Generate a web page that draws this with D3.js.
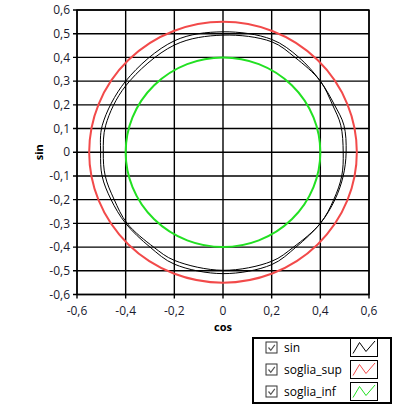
<!DOCTYPE html>
<html>
<head>
    <script src="https://d3js.org/d3.v7.min.js"></script>
    <style>
        body { margin: 0; padding: 0; background: white; }
        .tick-label { font-family: "Open Sans", sans-serif; font-size: 12px; fill: #1a1a2e; }
        .axis-title { font-family: "Open Sans", sans-serif; font-size: 11px; font-weight: bold; fill: black; }
        .legend-text { font-family: "Open Sans", sans-serif; font-size: 12px; fill: black; }
    </style>
</head>
<body>
<svg id="chart" width="393" height="405"></svg>
<script>
    // tick values
    const xTicks = [-0.6, -0.4, -0.2, 0, 0.2, 0.4, 0.6];
    const yTicks = [-0.6, -0.5, -0.4, -0.3, -0.2, -0.1, 0, 0.1, 0.2, 0.3, 0.4, 0.5, 0.6];

    // "sin" trace, two laps (cos, sin)
    const lap1Cos = [0.506, 0.497, 0.458, 0.4, 0.312, 0.2, 0.0, -0.2, -0.4, -0.496, -0.503, -0.497, -0.46, -0.4, -0.30, -0.2, 0.0, 0.2, 0.30, 0.4, 0.46, 0.494];
    const lap1Sin = [0.0, 0.114, 0.2, 0.3, 0.4, 0.476, 0.508, 0.47, 0.30, 0.114, 0.0, -0.1, -0.2, -0.3, -0.4, -0.472, -0.512, -0.474, -0.4, -0.3, -0.2, -0.1];
    const lap2Cos = [0.494, 0.484, 0.45, 0.4, 0.296, 0.2, 0.0, -0.2, -0.4, -0.482, -0.492, -0.484, -0.447, -0.394, -0.285, -0.2, 0.0, 0.2, 0.29, 0.4, 0.455, 0.488];
    const lap2Sin = [0.0, 0.114, 0.2, 0.3, 0.4, 0.466, 0.494, 0.452, 0.28, 0.114, 0.0, -0.1, -0.2, -0.3, -0.4, -0.456, -0.498, -0.46, -0.4, -0.3, -0.2, -0.1];

    // threshold circles (radius)
    const sogliaSup = 0.55;
    const sogliaInf = 0.4;

    // legend
    const legendNames = ['sin', 'soglia_sup', 'soglia_inf'];
    const legendColors = ['#000000', '#f24a4a', '#22e022'];

    const svg = d3.select('#chart');
    const pLeft = 77, pRight = 369, pTop = 10, pBottom = 294.5;

    const x = d3.scaleLinear().domain([-0.6, 0.6]).range([pLeft, pRight]);
    const y = d3.scaleLinear().domain([-0.6, 0.6]).range([pBottom, pTop]);

    const fmt = v => Math.abs(v) < 1e-9 ? '0' : v.toFixed(1).replace('.', ',');

    // plot background
    svg.append('rect')
        .attr('x', pLeft).attr('y', pTop)
        .attr('width', pRight - pLeft).attr('height', pBottom - pTop)
        .attr('fill', 'white');

    // grid
    const grid = svg.append('g');
    grid.selectAll('.vg')
        .data(xTicks)
        .join('line')
        .attr('x1', d => x(d)).attr('x2', d => x(d))
        .attr('y1', pTop).attr('y2', pBottom + 4)
        .attr('stroke', 'black').attr('stroke-width', 1.4);
    grid.selectAll('.hg')
        .data(yTicks)
        .join('line')
        .attr('x1', pLeft - 4).attr('x2', pRight)
        .attr('y1', d => y(d)).attr('y2', d => y(d))
        .attr('stroke', 'black').attr('stroke-width', 1.4);

    // tick labels
    svg.append('g').selectAll('text')
        .data(yTicks)
        .join('text')
        .attr('class', 'tick-label')
        .attr('x', pLeft - 7)
        .attr('y', d => y(d))
        .attr('dy', '0.35em')
        .attr('text-anchor', 'end')
        .text(fmt);
    svg.append('g').selectAll('text')
        .data(xTicks)
        .join('text')
        .attr('class', 'tick-label')
        .attr('x', d => x(d))
        .attr('y', pBottom + 20)
        .attr('text-anchor', 'middle')
        .text(fmt);

    // axis titles
    svg.append('text')
        .attr('class', 'axis-title')
        .attr('transform', `translate(43,${y(0)}) rotate(-90)`)
        .attr('text-anchor', 'middle')
        .text('sin');
    svg.append('text')
        .attr('class', 'axis-title')
        .attr('x', x(0))
        .attr('y', 331)
        .attr('text-anchor', 'middle')
        .text('cos');

    // threshold circles
    const plot = svg.append('g');
    plot.selectAll('ellipse')
        .data([sogliaSup, sogliaInf])
        .join('ellipse')
        .attr('cx', x(0)).attr('cy', y(0))
        .attr('rx', d => x(d) - x(0))
        .attr('ry', d => y(0) - y(d))
        .attr('fill', 'none')
        .attr('stroke', (d, i) => legendColors[i + 1])
        .attr('stroke-width', 2);

    // sin trace
    const line = d3.line()
        .x(d => x(d[0]))
        .y(d => y(d[1]))
        .curve(d3.curveCatmullRomClosed);
    const laps = [
        d3.zip(lap1Cos, lap1Sin),
        d3.zip(lap2Cos, lap2Sin)
    ];
    plot.selectAll('path.trace')
        .data(laps)
        .join('path')
        .attr('class', 'trace')
        .attr('d', line)
        .attr('fill', 'none')
        .attr('stroke', legendColors[0])
        .attr('stroke-width', 1);

    // frame
    svg.append('rect')
        .attr('x', pLeft).attr('y', pTop)
        .attr('width', pRight - pLeft).attr('height', pBottom - pTop)
        .attr('fill', 'none')
        .attr('stroke', 'black').attr('stroke-width', 1.4);

    // legend
    const lg = svg.append('g');
    lg.append('rect')
        .attr('x', 253).attr('y', 338)
        .attr('width', 138).attr('height', 65)
        .attr('fill', 'white')
        .attr('stroke', 'black').attr('stroke-width', 2);

    const rows = lg.selectAll('g.row')
        .data(legendNames)
        .join('g')
        .attr('class', 'row')
        .attr('transform', (d, i) => `translate(0,${347.5 + i * 22})`);

    rows.append('rect')
        .attr('x', 266).attr('y', -5.5)
        .attr('width', 11).attr('height', 11)
        .attr('fill', 'white')
        .attr('stroke', '#333').attr('stroke-width', 1);
    rows.append('path')
        .attr('d', 'M268.5,0 L270.8,2.8 L274.8,-2.6')
        .attr('fill', 'none')
        .attr('stroke', '#555').attr('stroke-width', 1.2);
    rows.append('text')
        .attr('class', 'legend-text')
        .attr('x', 284)
        .attr('y', 0)
        .attr('dy', '0.35em')
        .text(d => d);
    rows.append('rect')
        .attr('x', 350.5).attr('y', -9)
        .attr('width', 27).attr('height', 18)
        .attr('fill', 'white')
        .attr('stroke', 'black').attr('stroke-width', 1);
    rows.append('path')
        .attr('d', 'M353,6 L359.5,-5 L366,4 L375,-6.5')
        .attr('fill', 'none')
        .attr('stroke', (d, i) => legendColors[i])
        .attr('stroke-width', 1);
</script>
</body>
</html>
